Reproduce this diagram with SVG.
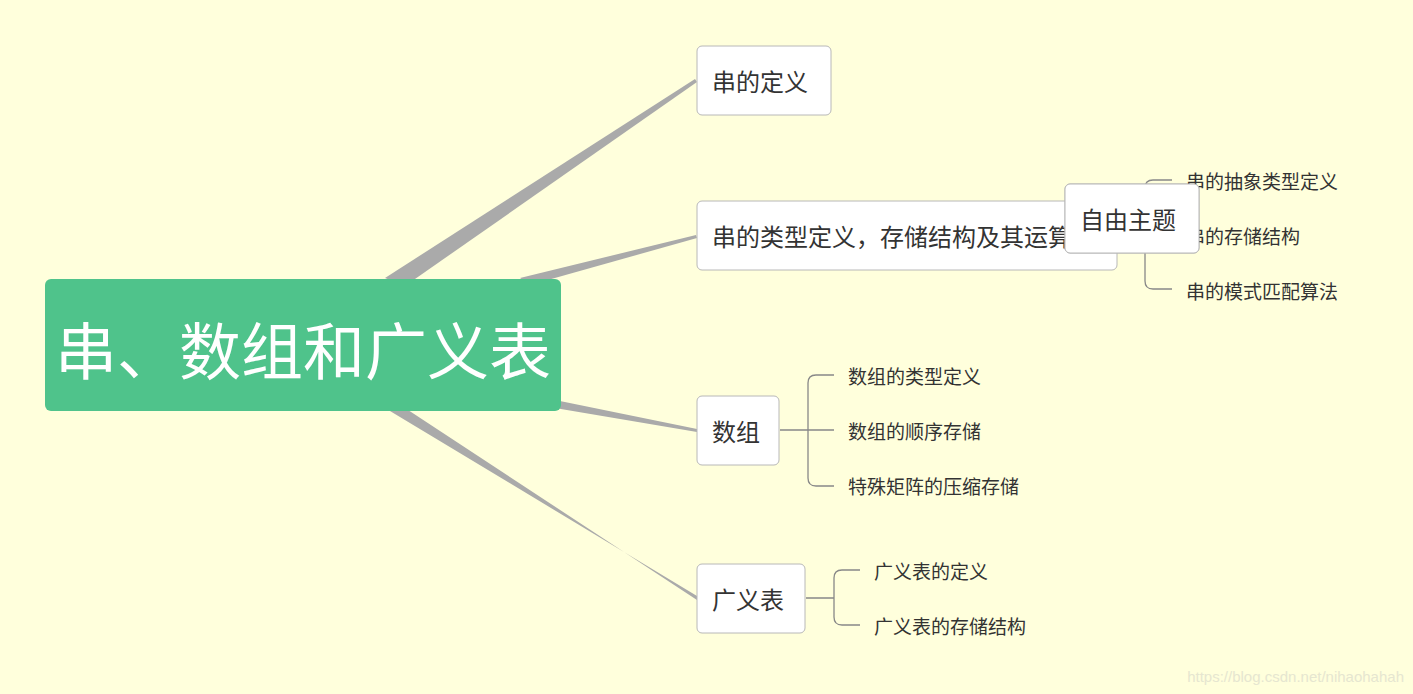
<svg xmlns="http://www.w3.org/2000/svg" width="1413" height="694" viewBox="0 0 1413 694">
<style>
text{font-family:"Noto Sans CJK SC","Liberation Sans",sans-serif;fill:#333}
.box{fill:#fff;stroke:#b8b8b8;stroke-width:1}
.br{fill:#aaa}
.sub{fill:none;stroke:#888;stroke-width:1.3}
.t1{font-size:24px}
.t2{font-size:19px}
</style>
<rect width="1413" height="694" fill="#ffffdc"/>
<g id="connectors">
<polygon class="br" points="385,278 405,286 697,82 695,79"/>
<polygon class="br" points="520,278 530,285 697,238 696,235"/>
<polygon class="br" points="555,400 555,408 697,432 697,429"/>
<polygon class="br" points="385,408 405,408 697,600 697,596"/>
<path class="sub" d="M780,430 H808 M834,375 H816 Q808,375 808,383 V478 Q808,486 816,486 H834 M808,430 H834"/>
<path class="sub" d="M806,598 H834 M860,570 H842 Q834,570 834,578 V617 Q834,625 842,625 H860"/>
<path class="sub" d="M1172,180 H1153 Q1145,180 1145,188 V281 Q1145,289 1153,289 H1172 M1145,235 H1172"/>
</g>
<g id="root">
<rect x="45" y="279" width="516" height="132" rx="6" fill="#4fc38b"/>
<text x="303" y="375" text-anchor="middle" font-size="62" style="fill:#fff">串、数组和广义表</text>
</g>
<g id="n1"><rect class="box" x="697" y="46" width="134" height="69" rx="5"/><text class="t1" x="712" y="91">串的定义</text></g>
<g id="n2"><rect class="box" x="697" y="201" width="420" height="69" rx="5"/><text class="t1" x="712" y="246">串的类型定义，存储结构及其运算</text></g>
<g id="n3"><rect class="box" x="697" y="396" width="82" height="69" rx="5"/><text class="t1" x="712" y="441">数组</text></g>
<g id="n4"><rect class="box" x="697" y="564" width="108" height="69" rx="5"/><text class="t1" x="712" y="609">广义表</text></g>
<g id="n5"><rect class="box" x="1065" y="184" width="134" height="69" rx="5"/><text class="t1" x="1080" y="229">自由主题</text></g>
<g id="leaves">
<text class="t2" x="1186" y="189">串的抽象类型定义</text>
<text class="t2" x="1186" y="244">串的存储结构</text>
<text class="t2" x="1186" y="299">串的模式匹配算法</text>
<text class="t2" x="848" y="384">数组的类型定义</text>
<text class="t2" x="848" y="439">数组的顺序存储</text>
<text class="t2" x="848" y="494">特殊矩阵的压缩存储</text>
<text class="t2" x="874" y="579">广义表的定义</text>
<text class="t2" x="874" y="634">广义表的存储结构</text>
</g>
<text x="1404" y="682" text-anchor="end" font-size="15" style="fill:#e6e6d0;font-family:'Liberation Sans',sans-serif">https://blog.csdn.net/nihaohahah</text>
<g id="n5top"><rect class="box" x="1065" y="184" width="134" height="69" rx="5"/><text class="t1" x="1080" y="229">自由主题</text></g>
</svg>
